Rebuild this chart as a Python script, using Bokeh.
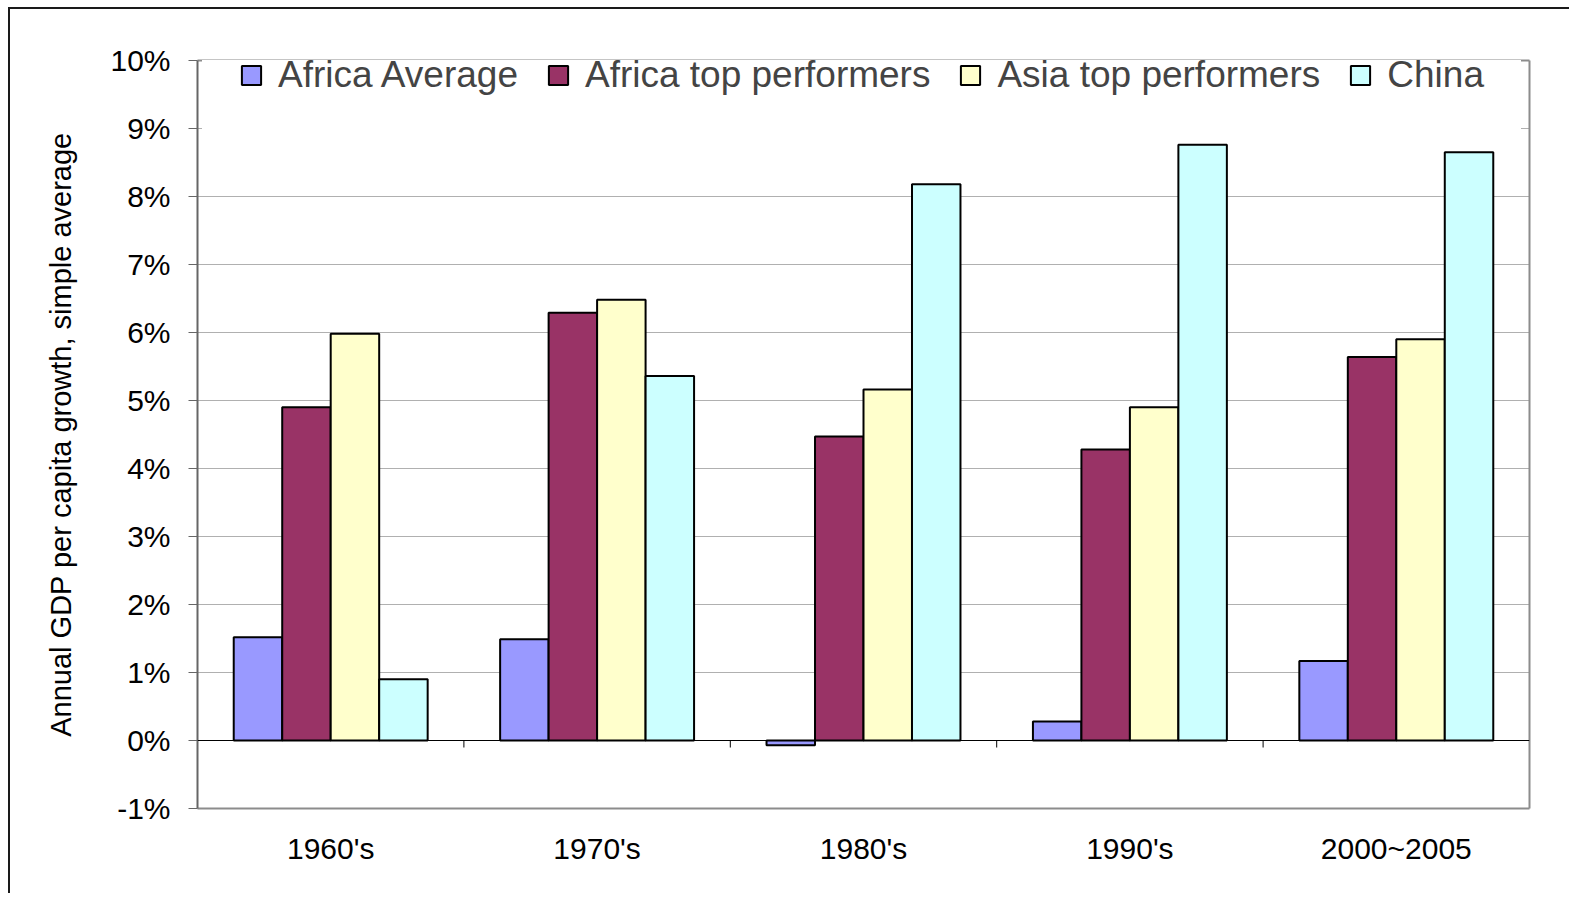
import math
from bokeh.plotting import figure
from bokeh.models import (ColumnDataSource, Range1d, FixedTicker, Legend, LegendItem,
                          PrintfTickFormatter, Span, LinearAxis)
from bokeh.transform import dodge
from bokeh.embed import file_html
from bokeh.resources import INLINE

categories = ["1960's", "1970's", "1980's", "1990's", "2000~2005"]
africa_avg = [1.52, 1.49, -0.07, 0.28, 1.17]
africa_top = [4.90, 6.29, 4.47, 4.28, 5.64]
asia_top = [5.98, 6.48, 5.16, 4.90, 5.90]
china = [0.90, 5.36, 8.18, 8.76, 8.65]
series_names = ["Africa Average", "Africa top performers", "Asia top performers", "China"]
colors = ["#9999FF", "#993366", "#FFFFCC", "#CCFFFF"]
y_ticks = list(range(-1, 11))

FONT = "Liberation Sans"
FRAME = "#8c8c8c"
pos = list(range(len(categories)))
bounds = [i - 0.5 for i in range(len(categories) + 1)]
src = ColumnDataSource(dict(x=pos, a=africa_avg, b=africa_top, c=asia_top, d=china))

p = figure(width=1569, height=893, output_backend="svg", toolbar_location=None,
           x_range=Range1d(-0.5, len(categories) - 0.5), y_range=Range1d(-1, 10),
           min_border_left=197, min_border_top=60, min_border_right=40, min_border_bottom=85)
p.border_fill_color = None
p.background_fill_color = "white"
p.outline_line_color = None
p.styles = {
    "background": "linear-gradient(#1a1a1a,#1a1a1a) 8px 7px / 100% 2px no-repeat, "
                  "linear-gradient(#1a1a1a,#1a1a1a) 8px 7px / 2px 100% no-repeat"
}

p.xgrid.grid_line_color = None
p.ygrid.ticker = FixedTicker(ticks=y_ticks)
p.ygrid.grid_line_color = "#b0b0b0"
p.ygrid.grid_line_width = 1

bw = 0.182
offsets = [-1.5 * bw, -0.5 * bw, 0.5 * bw, 1.5 * bw]
renderers = []
for col, off, color in zip(["a", "b", "c", "d"], offsets, colors):
    r = p.vbar(x=dodge("x", off, range=p.x_range), top=col, bottom=0, width=bw, source=src,
               fill_color=color, line_color="black", line_width=2)
    renderers.append(r)

# zero line with category boundary ticks
p.add_layout(Span(location=0, dimension="width", line_color="black", line_width=1))
p.ray(x=bounds, y=[0] * len(bounds), length=7, length_units="screen",
      angle=-math.pi / 2, line_color="black", line_width=1)

# x axis (labels at bottom)
xa = p.xaxis[0]
xa.ticker = FixedTicker(ticks=pos)
xa.major_label_overrides = {i: c for i, c in zip(pos, categories)}
xa.axis_line_color = FRAME
xa.axis_line_width = 2
xa.major_tick_line_color = None
xa.minor_tick_line_color = None
xa.major_label_standoff = 17
xa.major_label_text_font = FONT
xa.major_label_text_font_size = "30px"
xa.major_label_text_color = "black"

# frame borders at top and right (drawn below the legend)
for side in ("above", "right"):
    ax = LinearAxis(ticker=FixedTicker(ticks=[]), axis_line_color=FRAME, axis_line_width=2,
                    major_tick_line_color=None, minor_tick_line_color=None)
    p.add_layout(ax, side)

# y axis
ya = p.yaxis[0]
ya.ticker = FixedTicker(ticks=y_ticks)
ya.formatter = PrintfTickFormatter(format="%d%%")
ya.axis_line_color = "#666666"
ya.axis_line_width = 2
ya.major_tick_line_color = "#666666"
ya.major_tick_line_width = 1
ya.major_tick_out = 9
ya.major_tick_in = 0
ya.minor_tick_line_color = None
ya.major_label_standoff = 18
ya.major_label_text_font = FONT
ya.major_label_text_font_size = "30px"
ya.major_label_text_color = "black"
ya.axis_label = "Annual GDP per capita growth, simple average"
ya.axis_label_text_font = FONT
ya.axis_label_text_font_size = "29px"
ya.axis_label_text_font_style = "normal"
ya.axis_label_text_color = "black"
ya.axis_label_standoff = 30

legend = Legend(items=[LegendItem(label=n, renderers=[r]) for n, r in zip(series_names, renderers)],
                orientation="horizontal", location=(5, 675), padding=37, spacing=28,
                label_standoff=15, glyph_width=24, glyph_height=24,
                label_text_font=FONT, label_text_font_size="37px",
                background_fill_color="white", background_fill_alpha=1.0,
                border_line_color="white", border_line_alpha=0.0)
p.add_layout(legend)

open("out.html", "w").write(file_html(p, INLINE))
